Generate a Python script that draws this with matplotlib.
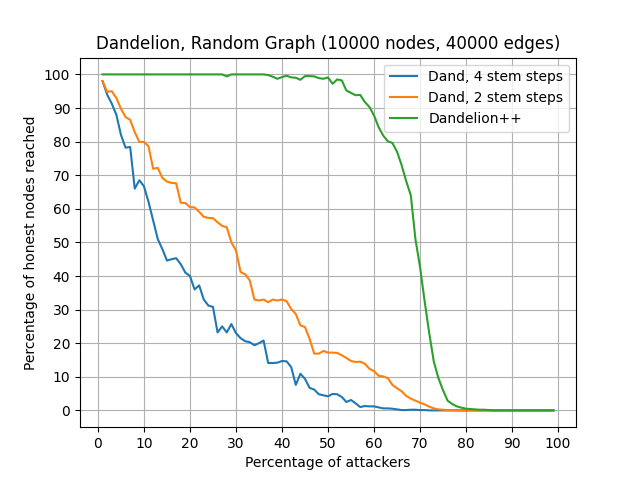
import numpy as np
import matplotlib
matplotlib.use("Agg")
import matplotlib.pyplot as plt

# percentage of attackers, 1..99
attackers = list(range(1, 100))

dand4 = [98, 94, 91.3, 88, 82, 78.2, 78.4, 66, 68.5, 66.7,
         62, 56.5, 51, 48, 44.6, 45, 45.3, 43.5, 41, 40,
         36, 37.2, 33, 31.2, 30.8, 23.2, 25, 23.2, 25.7, 23,
         21.5, 20.6, 20.3, 19.4, 20, 20.8, 14.1, 14.1, 14.2, 14.7,
         14.6, 12.9, 7.6, 10.9, 9.4, 6.7, 6.2, 4.8, 4.5, 4.2,
         4.9, 4.8, 4.0, 2.5, 3.1, 2.1, 1.0, 1.3, 1.2, 1.2,
         0.9, 0.6, 0.6, 0.5, 0.3, 0.1, 0.1, 0.2, 0.2, 0.1,
         0.1] + [0] * 28

dand2 = [98, 94.8, 95, 93, 89.8, 87.3, 86.5, 82.8, 79.9, 79.9,
         78.6, 71.9, 72.2, 69.2, 68.1, 67.7, 67.6, 61.8, 61.7, 60.5,
         60.4, 59.1, 57.6, 57.3, 57.2, 56, 54.9, 54.5, 50, 47.6,
         41.2, 40.5, 38.7, 33, 32.7, 33, 32.2, 33, 32.7, 33,
         32.5, 30.2, 28.7, 25.3, 24.8, 21.3, 16.9, 16.9, 17.7, 17.2,
         17.2, 17.1, 16.4, 15.6, 14.7, 14.4, 14.5, 13.9, 12.4, 11.7,
         10.3, 10.1, 9.6, 7.6, 6.6, 5.7, 4.3, 3.5, 2.9, 2.3,
         1.8, 1.1, 0.6, 0.3, 0.2, 0.1, 0.1] + [0] * 22

dandpp = [100] * 27 + [99.4] + [100] * 8 + \
         [99.8, 99.3, 98.7, 99.2, 99.6, 99.1, 99.0, 98.4, 99.5, 99.5,
          99.4, 98.9, 98.7, 99.1, 97.2, 98.5, 98.2, 95.2, 94.5, 93.8,
          93.9, 91.8, 90.3, 87.8, 84.3, 81.8, 80.1, 79.6, 77, 73,
          68.2, 64, 51, 42.7, 32.5, 23, 14.5, 9.6, 6, 2.9,
          1.9, 1.2, 0.8, 0.5, 0.4, 0.3, 0.2, 0.2, 0.1] + [0] * 14

plt.plot(attackers, dand4, label="Dand, 4 stem steps")
plt.plot(attackers, dand2, label="Dand, 2 stem steps")
plt.plot(attackers, dandpp, label="Dandelion++")
plt.title("Dandelion, Random Graph (10000 nodes, 40000 edges)")
plt.xlabel("Percentage of attackers")
plt.ylabel("Percentage of honest nodes reached")
plt.xticks(np.arange(0, 101, 10))
plt.yticks(np.arange(0, 101, 10))
plt.grid(True)
plt.legend(loc="upper right")
plt.savefig("out.png")
